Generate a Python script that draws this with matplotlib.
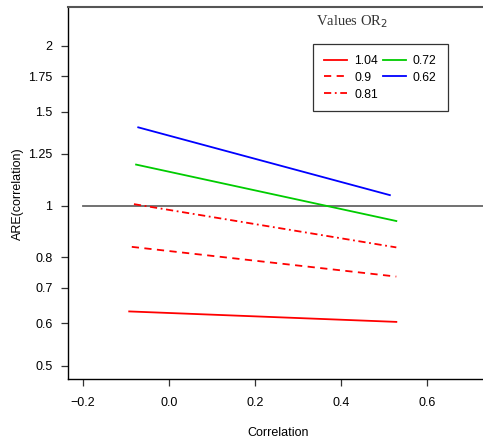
import numpy as np
import matplotlib
matplotlib.use("Agg")
from matplotlib import pyplot as plt
from matplotlib.lines import Line2D
from matplotlib.ticker import FixedLocator, NullLocator

plt.rcParams['font.family'] = ['Liberation Sans', 'DejaVu Sans']

# correlation range of each curve (start, end)
x_start = [-0.093, -0.087, -0.082, -0.077, -0.072]
x_end = [0.528, 0.528, 0.528, 0.528, 0.513]
# ARE values at start / end
are_start = [0.632, 0.836, 1.006, 1.194, 1.403]
are_end = [0.604, 0.735, 0.834, 0.935, 1.046]
labels = ['1.04', '0.9', '0.81', '0.72', '0.62']
colors = ['#ff0000', '#ff0000', '#ff0000', '#00cc00', '#0000ff']
styles = ['-', (0, (4, 3)), (0, (4, 2, 1, 2)), '-', '-']

yticks = [0.5, 0.6, 0.7, 0.8, 1, 1.25, 1.5, 1.75, 2]
ytick_labels = ['0.5', '0.6', '0.7', '0.8', '1', '1.25', '1.5', '1.75', '2']
xticks = [-0.2, 0.0, 0.2, 0.4, 0.6]

W, H = 483, 438
fig = plt.figure(figsize=(W / 100, H / 100), dpi=100)
ax = fig.add_axes([67.7 / W, 1 - 379.3 / H, (W - 67.7) / W + 0.01, (379.3 - 7.3) / H])

for i in range(len(labels)):
    ax.plot([x_start[i], x_end[i]], [are_start[i], are_end[i]], color=colors[i],
            linestyle=styles[i], lw=1.3, label=labels[i])

ax.plot([-0.2, 0.8], [1, 1], color='#666666', lw=1.3, zorder=1)

ax.set_yscale('log')
ax.set_ylim(0.471, 2.36)
ax.set_xlim(-0.236, 0.7295 + 0.01 * W / 430)
ax.yaxis.set_major_locator(FixedLocator(yticks))
ax.yaxis.set_minor_locator(NullLocator())
ax.set_yticklabels(ytick_labels)
ax.set_xticks(xticks)
ax.set_xticklabels(['\u22120.2', '0.0', '0.2', '0.4', '0.6'])
ax.tick_params(direction='out', length=5, width=0.9, labelsize=9, color='#333333')
ax.tick_params(axis='x', pad=8)
ax.tick_params(axis='y', pad=6)

ax.spines['right'].set_visible(False)
ax.spines['top'].set_visible(False)
ax.spines['left'].set_linewidth(1.0)
ax.spines['bottom'].set_linewidth(1.0)
# top border line of the box
fig.add_artist(Line2D([67.7 / W, 1], [1 - 7.3 / H, 1 - 7.3 / H], color='#555555', lw=1.5))

ax.set_xlabel('Correlation', fontsize=9, labelpad=13)
ax.set_ylabel('ARE(correlation)', fontsize=9, labelpad=3)

leg = ax.legend(ncol=2, loc='upper left', bbox_to_anchor=(313 / W, 1 - 44 / H),
                bbox_transform=fig.transFigure, fontsize=8.7, frameon=True, fancybox=False,
                handlelength=1.9, columnspacing=0.4, borderpad=0.9, labelspacing=0.4,
                handletextpad=0.6, borderaxespad=0)
leg.get_frame().set_edgecolor('black')
leg.get_frame().set_linewidth(0.9)

fig.text(316 / W, 1 - 22 / H, 'Values OR$_2$', fontsize=10.5, va='center', ha='left',
         family='Liberation Serif', color='#333333')

fig.savefig('out.png', dpi=100)
